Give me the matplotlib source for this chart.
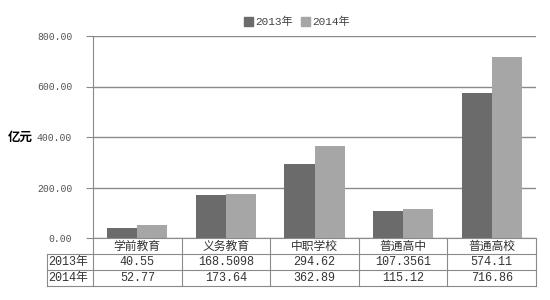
import numpy as np
import matplotlib.pyplot as plt
from matplotlib.patches import Patch
import matplotlib.transforms as mtransforms

plt.rcParams['font.family'] = ['Liberation Mono', 'Noto Sans CJK SC', 'DejaVu Sans']

# data
categories = ["学前教育", "义务教育", "中职学校", "普通高中", "普通高校"]
series_names = ["2013年", "2014年"]
values_2013 = [40.55, 168.5098, 294.62, 107.3561, 574.11]
values_2014 = [52.77, 173.64, 362.89, 115.12, 716.86]
labels_2013 = ["40.55", "168.5098", "294.62", "107.3561", "574.11"]
labels_2014 = ["52.77", "173.64", "362.89", "115.12", "716.86"]
yticks = [0, 200, 400, 600, 800]

c13 = '#6b6b6b'
c14 = '#a6a6a6'
line_c = '#8a8a8a'

# axes box in pixels (left, top, right, bottom)
L, T, R, B = 93, 36, 536, 238
W, H = R - L, B - T

fig = plt.figure(figsize=(5.5, 3), dpi=100)
ax = fig.add_axes([L/550, (300 - B)/300, W/550, H/300])

x = np.arange(len(categories))
w = 0.34
ax.bar(x - w/2, values_2013, w, color=c13, zorder=3)
ax.bar(x + w/2, values_2014, w, color=c14, zorder=3)

ax.set_xlim(-0.5, len(categories) - 0.5)
ax.set_ylim(0, 800)
ax.set_yticks(yticks)
ax.set_yticklabels(["%.2f" % v for v in yticks], fontsize=7, color='#555555')
ax.yaxis.grid(True, color=line_c, linewidth=1, zorder=0)
ax.set_xticks([])
for s in ['top', 'right', 'bottom']:
    ax.spines[s].set_visible(False)
ax.spines['left'].set_color(line_c)
ax.tick_params(axis='y', direction='out', length=5, color=line_c, pad=10)

ax.set_ylabel("亿元", rotation=0, fontsize=9, fontweight='bold',
              family=['Noto Sans CJK SC'], va='center')
ax.yaxis.set_label_coords(-(L - 20) / W, 0.5)

# data table below the axes, x in data units, y in axes fraction
trans = mtransforms.blended_transform_factory(ax.transData, ax.transAxes)
ax_left = ax.get_xlim()[0]
x_left = ax_left - (L - 47) / W * len(categories)   # row label column start
y_rows = [0, -16/H, -32/H, -48/H]
xr = len(categories) - 0.5
kw = dict(color=line_c, linewidth=0.8, transform=trans, clip_on=False, zorder=4)

ax.plot([ax_left, xr], [0, 0], **kw)
for yy in y_rows[1:]:
    ax.plot([x_left, xr], [yy, yy], **kw)
for xx in np.arange(len(categories) + 1) - 0.5:
    ax.plot([xx, xx], [0, y_rows[-1]], **kw)
ax.plot([x_left, x_left], [y_rows[1], y_rows[-1]], **kw)

for i, cat in enumerate(categories):
    ax.text(i, (y_rows[0] + y_rows[1]) / 2, cat, transform=trans, ha='center', va='center',
            fontsize=8.5, color='#333333', family=['Noto Sans CJK SC'])
for r, (name, labs) in enumerate(zip(series_names, [labels_2013, labels_2014])):
    yc = (y_rows[r + 1] + y_rows[r + 2]) / 2
    ax.text(x_left + 0.01, yc, name, transform=trans, ha='left', va='center',
            fontsize=8.5, color='#333333')
    for i, lab in enumerate(labs):
        ax.text(i, yc, lab, transform=trans, ha='center', va='center',
                fontsize=8.5, color='#333333')

handles = [Patch(color=c13), Patch(color=c14)]
fig.legend(handles, series_names, loc='center', bbox_to_anchor=(297/550, 1 - 22/300),
           ncol=2, frameon=False, fontsize=8, handlelength=0.8, handleheight=0.8,
           handletextpad=0.2, columnspacing=0.8, labelcolor='#444444')

plt.savefig("out.png", dpi=100)
